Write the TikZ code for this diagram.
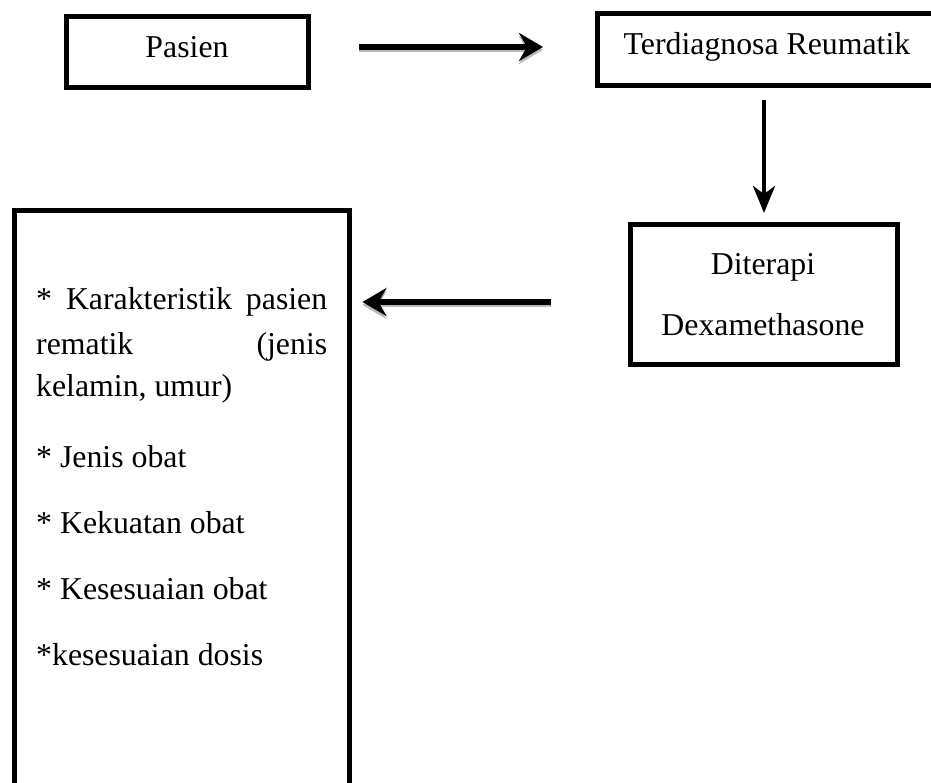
\documentclass[tikz,border=0pt]{standalone}
\usepackage{fontspec}
\setmainfont{Liberation Serif}
\usetikzlibrary{arrows.meta,calc}
\begin{document}
\begin{tikzpicture}[x=1pt,y=-1pt,
  box/.style={draw=black,line width=5pt,rectangle,inner sep=0pt},
  txt/.style={inner sep=0pt,anchor=base,font=\fontsize{31.8pt}{38pt}\selectfont},
  ltxt/.style={txt,anchor=base west},
  flow/.style={line width=5.5pt,-{Stealth[length=24pt,width=28pt,inset=8pt]}},
  shade/.style={line width=3.5pt,draw=gray!55,-{Stealth[length=24pt,width=28pt,inset=8pt]}}]
\useasboundingbox (0,0) rectangle (931,783);
\clip (0,0) rectangle (931,783);
% boxes
\node[box,minimum width=242pt,minimum height=71pt] (pasien) at (187.5,52) {};
\node[box,minimum width=342.5pt,minimum height=72pt] (terd) at (768.75,49.5) {};
\node[box,minimum width=267pt,minimum height=140pt] (diter) at (764,294.5) {};
\node[box,minimum width=335pt,minimum height=589.5pt] (big) at (182,505.25) {};
% labels
\node[txt] (tpasien) at (187,58) {Pasien};
\node[txt] (tterd) at (767,55) {Terdiagnosa Reumatik};
\node[txt] (tdit1) at (763,275) {Diterapi};
\node[txt] (tdit2) at (763,335) {Dexamethasone};
\node[ltxt] (l1) at (36,310) {\makebox[291pt][s]{* Karakteristik pasien}};
\node[ltxt] (l2) at (36,354) {\makebox[291pt][s]{rematik (jenis}};
\node[ltxt] (l3) at (36,396) {kelamin, umur)};
\node[ltxt] (l4) at (36,467) {* Jenis obat};
\node[ltxt] (l5) at (36,533) {* Kekuatan obat};
\node[ltxt] (l6) at (36,599) {* Kesesuaian obat};
\node[ltxt] (l7) at (36,665) {*kesesuaian dosis};
% connectors
\coordinate (a1) at (0,47);
\coordinate (a3) at (0,302);
\draw[shade,transform canvas={yshift=-3pt},shorten <=48pt,shorten >=52pt] (pasien.east |- a1) -- (terd.west |- a1);
\draw[flow,shorten <=48pt,shorten >=52pt] (pasien.east |- a1) -- (terd.west |- a1);
\draw[flow,line width=4.5pt,-{Stealth[length=27pt,width=22pt,inset=8pt]},shorten <=12pt,shorten >=9pt]
  (diter.north |- terd.south) -- (diter.north);
\draw[shade,transform canvas={yshift=-3pt},shorten <=77.5pt,shorten >=10.5pt] (diter.west |- a3) -- (big.east |- a3);
\draw[flow,shorten <=77.5pt,shorten >=10.5pt] (diter.west |- a3) -- (big.east |- a3);
\end{tikzpicture}
\end{document}
